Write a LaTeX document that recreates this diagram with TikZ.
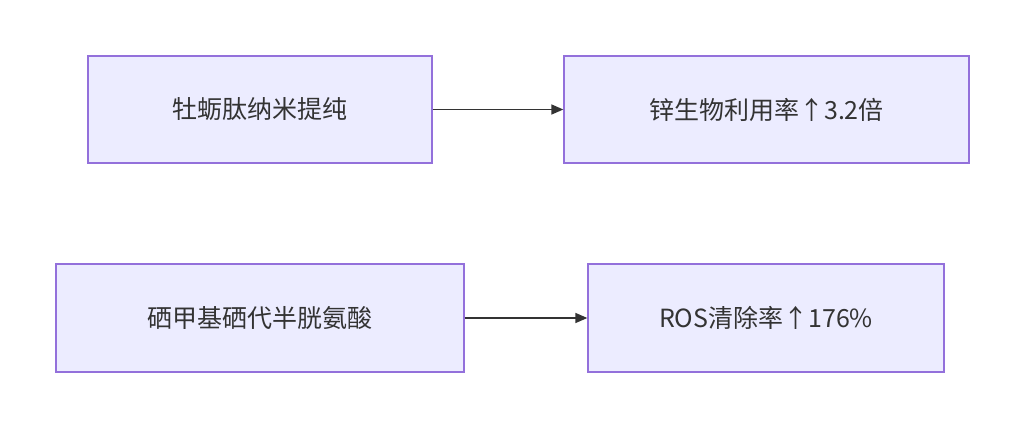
\documentclass[tikz,border=0pt]{standalone}
\usepackage{fontspec}
\setmainfont{Noto Sans CJK SC}
\usetikzlibrary{arrows.meta}
\definecolor{boxfill}{HTML}{ECECFF}
\definecolor{boxline}{HTML}{9370DB}
\definecolor{arr}{HTML}{333333}
\begin{document}
\begin{tikzpicture}[x=1pt,y=-1pt,
  box/.style={draw=boxline,fill=boxfill,line width=1.3pt,inner sep=0pt,text=arr,font=\fontsize{25}{30}\selectfont},
  conn/.style={draw=arr,line width=1.5pt,-{Triangle[length=12pt,width=10pt]}}]
\path[fill=white] (0,0) rectangle (1025,428);
\node[box,minimum width=344pt,minimum height=107pt] (a) at (260,109.5) {牡蛎肽纳米提纯};
\node[box,minimum width=405pt,minimum height=107pt] (b) at (766.5,109.5) {锌生物利用率↑3.2倍};
\node[box,minimum width=408pt,minimum height=108pt] (c) at (260,318) {硒甲基硒代半胱氨酸};
\node[box,minimum width=356pt,minimum height=108pt] (d) at (766,318) {ROS清除率↑176\%};
\draw[conn] (a) -- (b);
\draw[conn] (c) -- (d);
\end{tikzpicture}
\end{document}
